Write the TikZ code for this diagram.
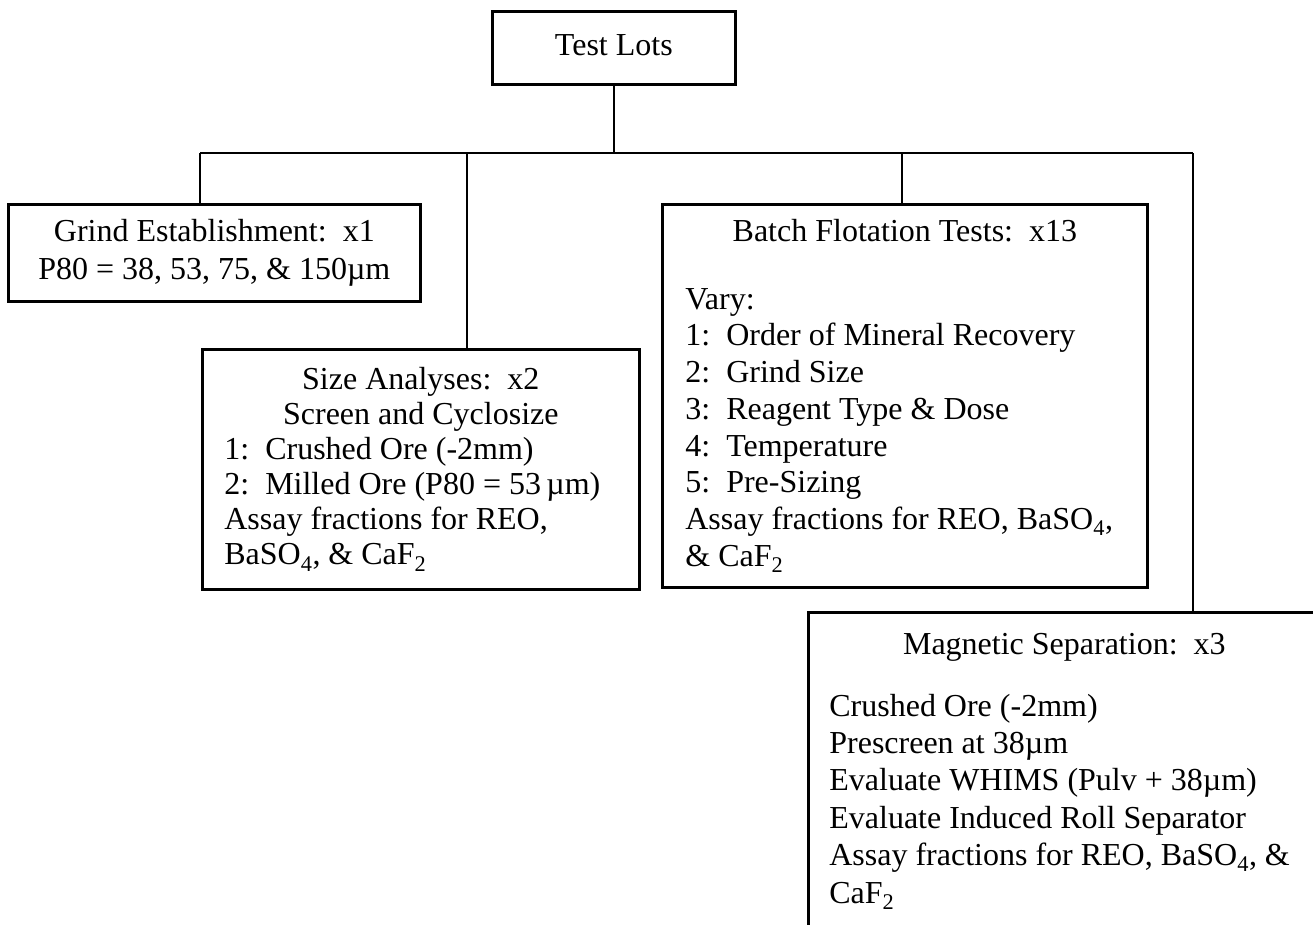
\documentclass[tikz,border=0pt]{standalone}
\usepackage{fontspec}
\setmainfont{Liberation Serif}
\tikzset{
  box/.style={draw, line width=2.7pt, rectangle, inner sep=0pt, anchor=north west,
    font=\fontsize{32}{36.5}\selectfont},
  link/.style={line width=2.2pt},
}
\begin{document}
\begin{tikzpicture}[x=1pt,y=-1pt]
\useasboundingbox (0,0) rectangle (1313,924);
\clip (0,0) rectangle (1313,924);

% boxes
\node[box, minimum width=243pt, minimum height=73pt] (lots) at (491,10)
  {\raisebox{6pt}{Test Lots}};

\node[box, minimum width=412pt, minimum height=97pt, font=\fontsize{32}{38}\selectfont] (grind) at (7,203)
  {\parbox{380pt}{\centering Grind Establishment:\ \ x1\\ P80 = 38, 53, 75, \& 150µm}};

\node[box, minimum width=437pt, minimum height=240pt, font=\fontsize{32}{35}\selectfont] (size) at (201,348)
  {\parbox{393pt}{\centering Size Analyses:\ \ x2\\ Screen and Cyclosize\par
   \raggedright 1:\ \ Crushed Ore (-2mm)\\ 2:\ \ Milled Ore (P80 = 53\,µm)\\
   Assay fractions for REO,\\ BaSO\textsubscript{4}, \& CaF\textsubscript{2}}};

\node[box, minimum width=485pt, minimum height=383pt, font=\fontsize{32}{36.7}\selectfont] (batch) at (661,203)
  {\parbox{439pt}{\centering Batch Flotation Tests:\ \ x13\par\vspace{31pt}
   \raggedright Vary:\\ 1:\ \ Order of Mineral Recovery\\ 2:\ \ Grind Size\\
   3:\ \ Reagent Type \& Dose\\ 4:\ \ Temperature\\ 5:\ \ Pre-Sizing\\
   Assay fractions for REO, BaSO\textsubscript{4},\\ \& CaF\textsubscript{2}}};

% this box runs past the right and bottom edges of the sheet
\node[box, minimum width=512pt, minimum height=318pt, font=\fontsize{32}{37.4}\selectfont] (mag) at (807,611)
  {\parbox{470pt}{\centering Magnetic Separation:\ \ x3\par\vspace{24pt}
   \raggedright Crushed Ore (-2mm)\\ Prescreen at 38µm\\ Evaluate WHIMS (Pulv + 38µm)\\
   Evaluate Induced Roll Separator\\ Assay fractions for REO, BaSO\textsubscript{4}, \&\\
   CaF\textsubscript{2}}};

% distribution bus and drops
\coordinate (busL) at (200,153);
\coordinate (jSize) at (467,153);
\coordinate (jBatch) at (902,153);
\coordinate (busR) at (1193,153);
\draw[link] (busL) -- (busR);
\draw[link] (lots.south) -- (lots.south |- busL);
\draw[link] (busL) -- (busL |- grind.north);
\draw[link] (jSize) -- (jSize |- size.north);
\draw[link] (jBatch) -- (jBatch |- batch.north);
\draw[link] (busR) -- (busR |- mag.north);
\end{tikzpicture}
\end{document}
